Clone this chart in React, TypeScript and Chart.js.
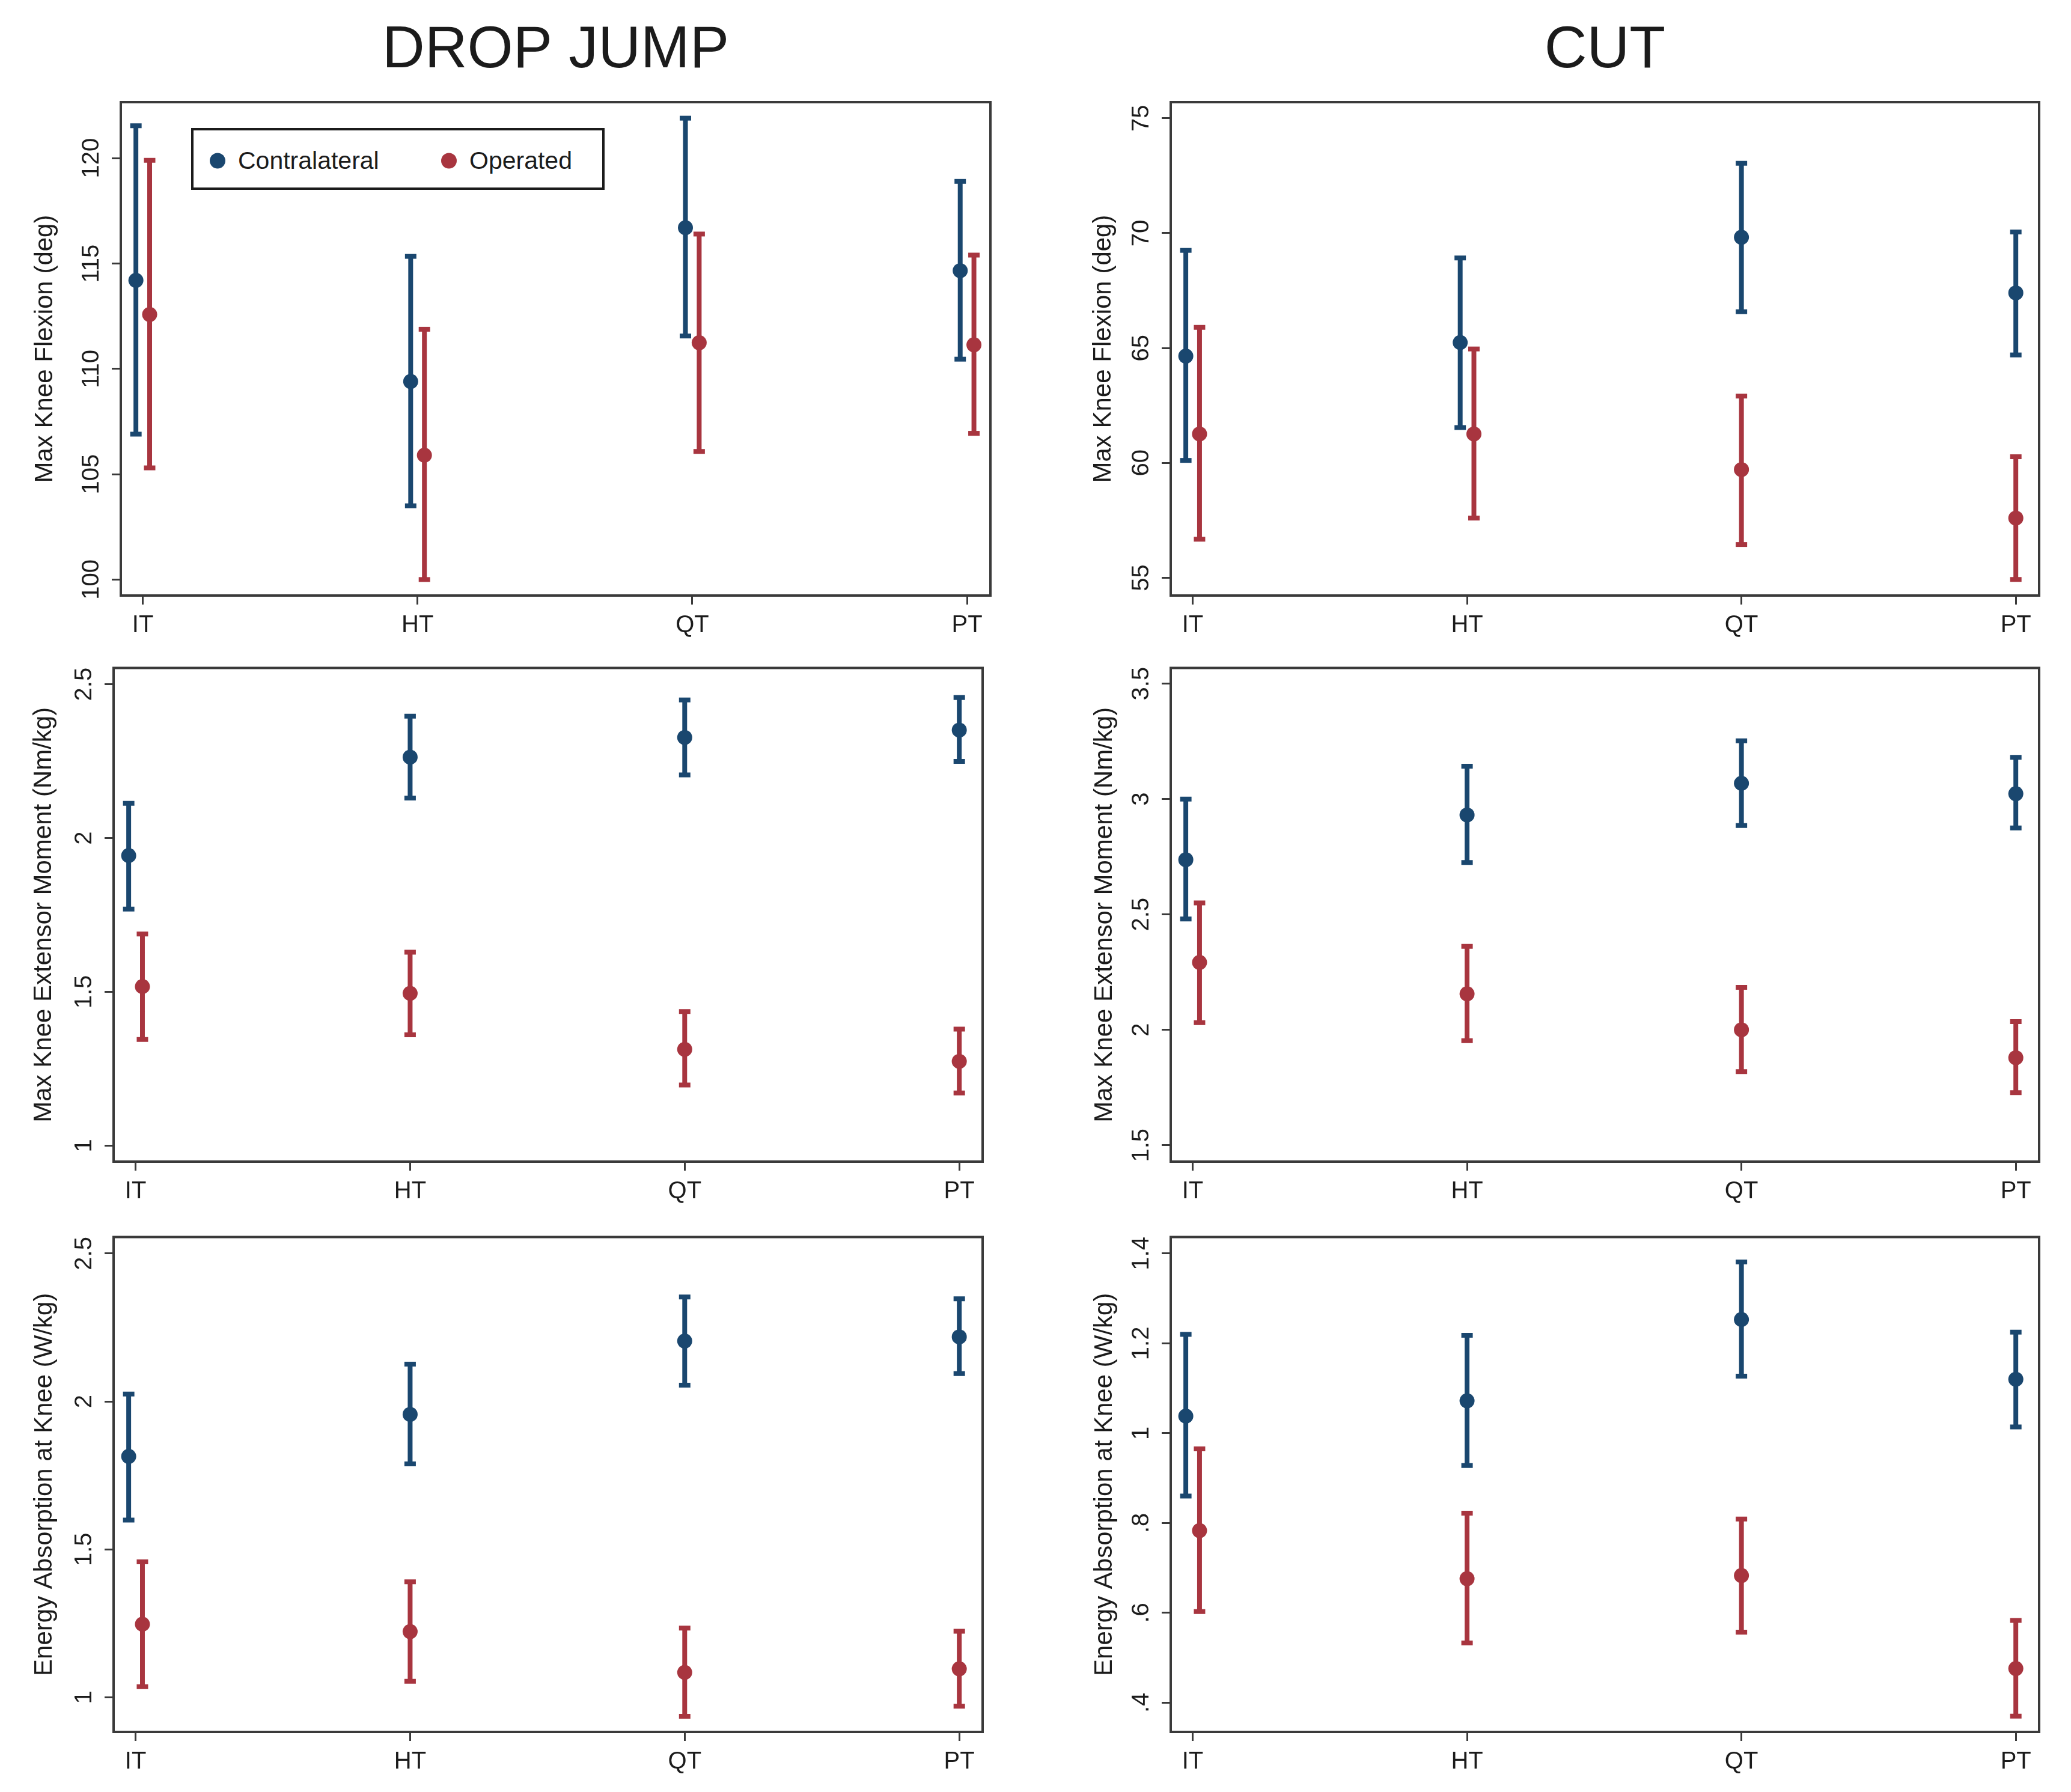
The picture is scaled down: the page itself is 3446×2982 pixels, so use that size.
import React, { useEffect, useRef } from "react";
import { Chart, registerables, ChartConfiguration } from "chart.js";

Chart.register(...registerables);

// ---- data ----------------------------------------------------------------
const categories = ["IT", "HT", "QT", "PT"];
const seriesNames = ["Contralateral", "Operated"];
const columnTitles = ["DROP JUMP", "CUT"];
const rowTitles = [
  "Max Knee Flexion (deg)",
  "Max Knee Extensor Moment (Nm/kg)",
  "Energy Absorption at Knee (W/kg)",
];

// drop jump, max knee flexion
const djFlexContraMean = [114.2, 109.4, 116.7, 114.66];
const djFlexContraLo = [106.9, 103.5, 111.56, 110.46];
const djFlexContraHi = [121.54, 115.34, 121.9, 118.9];
const djFlexOpMean = [112.58, 105.9, 111.24, 111.14];
const djFlexOpLo = [105.3, 100.0, 106.08, 106.94];
const djFlexOpHi = [119.9, 111.88, 116.4, 115.4];
const djFlexDodge = [1, 1, 1, 1];
const djFlexTicks = [100, 105, 110, 115, 120];

// cut, max knee flexion
const cutFlexContraMean = [64.65, 65.24, 69.82, 67.4];
const cutFlexContraLo = [60.11, 61.54, 66.58, 64.7];
const cutFlexContraHi = [69.25, 68.92, 73.04, 70.05];
const cutFlexOpMean = [61.26, 61.26, 59.71, 57.6];
const cutFlexOpLo = [56.68, 57.6, 56.45, 54.93];
const cutFlexOpHi = [65.9, 64.96, 62.91, 60.27];
const cutFlexDodge = [1, 1, 0, 0];
const cutFlexTicks = [55, 60, 65, 70, 75];

// drop jump, max knee extensor moment
const djMomContraMean = [1.943, 2.263, 2.327, 2.351];
const djMomContraLo = [1.769, 2.13, 2.205, 2.249];
const djMomContraHi = [2.113, 2.396, 2.449, 2.457];
const djMomOpMean = [1.517, 1.495, 1.313, 1.274];
const djMomOpLo = [1.345, 1.36, 1.197, 1.171];
const djMomOpHi = [1.688, 1.629, 1.436, 1.379];
const djMomDodge = [1, 0, 0, 0];
const djMomTicks = [1, 1.5, 2, 2.5];

// cut, max knee extensor moment
const cutMomContraMean = [2.737, 2.931, 3.068, 3.023];
const cutMomContraLo = [2.48, 2.725, 2.885, 2.875];
const cutMomContraHi = [3.0, 3.142, 3.252, 3.181];
const cutMomOpMean = [2.292, 2.156, 2.0, 1.879];
const cutMomOpLo = [2.031, 1.953, 1.819, 1.728];
const cutMomOpHi = [2.55, 2.362, 2.184, 2.036];
const cutMomDodge = [1, 0, 0, 0];
const cutMomTicks = [1.5, 2, 2.5, 3, 3.5];

// drop jump, energy absorption
const djEnContraMean = [1.814, 1.956, 2.204, 2.218];
const djEnContraLo = [1.599, 1.789, 2.055, 2.094];
const djEnContraHi = [2.025, 2.126, 2.353, 2.347];
const djEnOpMean = [1.247, 1.222, 1.084, 1.096];
const djEnOpLo = [1.036, 1.054, 0.936, 0.97];
const djEnOpHi = [1.458, 1.39, 1.234, 1.223];
const djEnDodge = [1, 0, 0, 0];
const djEnTicks = [1, 1.5, 2, 2.5];

// cut, energy absorption
const cutEnContraMean = [1.038, 1.072, 1.253, 1.12];
const cutEnContraLo = [0.86, 0.928, 1.127, 1.014];
const cutEnContraHi = [1.22, 1.218, 1.381, 1.225];
const cutEnOpMean = [0.783, 0.676, 0.683, 0.476];
const cutEnOpLo = [0.603, 0.533, 0.557, 0.37];
const cutEnOpHi = [0.965, 0.822, 0.809, 0.583];
const cutEnDodge = [1, 0, 0, 0];
const cutEnTicks = [0.4, 0.6, 0.8, 1, 1.2, 1.4];

// ---- look ----------------------------------------------------------------
const FONT = '"Liberation Sans", Arial, Helvetica, sans-serif';
const INK = "#1b1b1b";
const FRAME = "#3a3a3a";
const BLUE = "#1a476f";
const RED = "#a8353f";
const seriesColors = [BLUE, RED];
const DODGE = 0.025;
const TICK_LEN = 15;
const TICK_FONT = 40;
const LABEL_CENTER = 48; // box edge -> centre of rotated y tick label
const X_AXIS_H = 90;

interface Series {
  mean: number[];
  lo: number[];
  hi: number[];
}

interface PanelSpec {
  key: string;
  title?: string;
  yTitle: string;
  contra: Series;
  operated: Series;
  dodge: number[];
  yTicks: number[];
  yMin: number;
  yMax: number;
  left: number;
  top: number;
  width: number;
  height: number;
  axisW: number;
  padTop: number;
  padRight: number;
  yTitlePad: number;
}

const panels: PanelSpec[] = [
  {
    key: "djFlex", title: columnTitles[0], yTitle: rowTitles[0],
    contra: { mean: djFlexContraMean, lo: djFlexContraLo, hi: djFlexContraHi },
    operated: { mean: djFlexOpMean, lo: djFlexOpLo, hi: djFlexOpHi },
    dodge: djFlexDodge, yTicks: djFlexTicks, yMin: 99.24, yMax: 122.66,
    left: 0, top: 0, width: 1723, height: 1081, axisW: 201, padTop: 0, padRight: 75, yTitlePad: 50,
  },
  {
    key: "cutFlex", title: columnTitles[1], yTitle: rowTitles[0],
    contra: { mean: cutFlexContraMean, lo: cutFlexContraLo, hi: cutFlexContraHi },
    operated: { mean: cutFlexOpMean, lo: cutFlexOpLo, hi: cutFlexOpHi },
    dodge: cutFlexDodge, yTicks: cutFlexTicks, yMin: 54.23, yMax: 75.7,
    left: 1723, top: 0, width: 1723, height: 1081, axisW: 225, padTop: 0, padRight: 53, yTitlePad: 88,
  },
  {
    key: "djMom", yTitle: rowTitles[1],
    contra: { mean: djMomContraMean, lo: djMomContraLo, hi: djMomContraHi },
    operated: { mean: djMomOpMean, lo: djMomOpLo, hi: djMomOpHi },
    dodge: djMomDodge, yTicks: djMomTicks, yMin: 0.948, yMax: 2.553,
    left: 0, top: 1051, width: 1723, height: 972, axisW: 189, padTop: 60.5, padRight: 88, yTitlePad: 48,
  },
  {
    key: "cutMom", yTitle: rowTitles[1],
    contra: { mean: cutMomContraMean, lo: cutMomContraLo, hi: cutMomContraHi },
    operated: { mean: cutMomOpMean, lo: cutMomOpLo, hi: cutMomOpHi },
    dodge: cutMomDodge, yTicks: cutMomTicks, yMin: 1.429, yMax: 3.568,
    left: 1723, top: 1051, width: 1723, height: 972, axisW: 225, padTop: 60.5, padRight: 53, yTitlePad: 90,
  },
  {
    key: "djEn", yTitle: rowTitles[2],
    contra: { mean: djEnContraMean, lo: djEnContraLo, hi: djEnContraHi },
    operated: { mean: djEnOpMean, lo: djEnOpLo, hi: djEnOpHi },
    dodge: djEnDodge, yTicks: djEnTicks, yMin: 0.883, yMax: 2.5555,
    left: 0, top: 1998, width: 1723, height: 974, axisW: 189, padTop: 60.5, padRight: 88, yTitlePad: 49,
  },
  {
    key: "cutEn", yTitle: rowTitles[2],
    contra: { mean: cutEnContraMean, lo: cutEnContraLo, hi: cutEnContraHi },
    operated: { mean: cutEnOpMean, lo: cutEnOpLo, hi: cutEnOpHi },
    dodge: cutEnDodge, yTicks: cutEnTicks, yMin: 0.335, yMax: 1.4366,
    left: 1723, top: 1998, width: 1723, height: 974, axisW: 225, padTop: 60.5, padRight: 53, yTitlePad: 90,
  },
];

// stata style: drop the leading zero
function fmtTick(v: number): string {
  const s = String(Math.round(v * 100) / 100);
  return s.startsWith("0.") ? s.slice(1) : s;
}

function measureWidest(labels: string[], size: number): number {
  const ctx = document.createElement("canvas").getContext("2d");
  if (!ctx) return 0;
  ctx.font = `normal ${size}px ${FONT}`;
  return Math.max(...labels.map((l) => ctx.measureText(l).width));
}

function xOf(i: number, dodge: number[], side: number) {
  return i + 1 + dodge[i] * side * DODGE;
}

// vertical whiskers, broken by null points, caps drawn as line points
function whiskerSet(s: Series, dodge: number[], side: number, color: string) {
  const pts: { x: number; y: number | null }[] = [];
  s.lo.forEach((lo, i) => {
    const x = xOf(i, dodge, side);
    pts.push({ x, y: lo }, { x, y: s.hi[i] }, { x, y: null });
  });
  return {
    type: "line" as const,
    data: pts,
    borderColor: color,
    borderWidth: 8,
    pointStyle: "line" as const,
    pointRadius: 9.5,
    pointBorderWidth: 8,
    pointBorderColor: color,
    pointBackgroundColor: color,
    spanGaps: false,
    tension: 0,
    fill: false,
    order: 2,
  };
}

function meanSet(s: Series, dodge: number[], side: number, color: string) {
  return {
    type: "scatter" as const,
    data: s.mean.map((m, i) => ({ x: xOf(i, dodge, side), y: m })),
    pointStyle: "circle" as const,
    pointRadius: 12.5,
    pointBackgroundColor: color,
    pointBorderColor: color,
    pointBorderWidth: 0,
    showLine: false,
    order: 1,
  };
}

const framePlugin = {
  id: "frame",
  afterDatasetsDraw(chart: Chart) {
    const { ctx, chartArea: a } = chart;
    ctx.save();
    ctx.strokeStyle = FRAME;
    ctx.lineWidth = 4;
    ctx.strokeRect(a.left, a.top, a.right - a.left, a.bottom - a.top);
    ctx.restore();
  },
};

function buildConfig(spec: PanelSpec): ChartConfiguration {
  const widest = measureWidest(spec.yTicks.map(fmtTick), TICK_FONT);
  const yTickPad = LABEL_CENTER - TICK_LEN - widest / 2;
  const tickGrid = {
    display: true,
    drawOnChartArea: false,
    drawTicks: true,
    tickLength: TICK_LEN,
    tickWidth: 3,
    tickColor: FRAME,
  };

  return {
    type: "scatter",
    data: {
      datasets: [
        whiskerSet(spec.contra, spec.dodge, -1, BLUE),
        whiskerSet(spec.operated, spec.dodge, 1, RED),
        meanSet(spec.contra, spec.dodge, -1, BLUE),
        meanSet(spec.operated, spec.dodge, 1, RED),
      ] as any,
    },
    options: {
      animation: false,
      responsive: true,
      maintainAspectRatio: false,
      events: [],
      layout: {
        padding: { left: 0, top: spec.padTop, right: spec.padRight, bottom: 0 },
      },
      plugins: {
        legend: { display: false },
        tooltip: { enabled: false },
        title: {
          display: !!spec.title,
          text: spec.title || "",
          fullSize: false,
          color: INK,
          font: { family: FONT, size: 98, weight: "normal", lineHeight: 1 },
          padding: { top: 36, bottom: 36 },
        },
      },
      scales: {
        x: {
          type: "linear",
          min: 0.92,
          max: 4.085,
          afterBuildTicks: (s: any) => {
            s.ticks = categories.map((_, i) => ({ value: i + 1 }));
          },
          afterFit: (s: any) => {
            s.height = X_AXIS_H;
          },
          ticks: {
            autoSkip: false,
            minRotation: 0,
            maxRotation: 0,
            padding: 11,
            color: INK,
            font: { family: FONT, size: TICK_FONT, lineHeight: 1.2 },
            callback: (v: any) => categories[Number(v) - 1] ?? "",
          },
          grid: tickGrid,
          border: { display: false },
        },
        y: {
          type: "linear",
          min: spec.yMin,
          max: spec.yMax,
          afterBuildTicks: (s: any) => {
            s.ticks = spec.yTicks.map((v) => ({ value: v }));
          },
          afterFit: (s: any) => {
            s.width = spec.axisW;
          },
          ticks: {
            autoSkip: false,
            minRotation: 90,
            maxRotation: 90,
            crossAlign: "center",
            padding: yTickPad,
            color: INK,
            font: { family: FONT, size: TICK_FONT, lineHeight: 1.2 },
            callback: (v: any) => fmtTick(Number(v)),
          },
          grid: tickGrid,
          border: { display: false },
          title: {
            display: true,
            text: spec.yTitle,
            color: INK,
            font: { family: FONT, size: 42, lineHeight: 1.2 },
            padding: { top: spec.yTitlePad, bottom: 0 },
          },
        },
      },
    },
    plugins: [framePlugin],
  } as ChartConfiguration;
}

function Panel({ spec }: { spec: PanelSpec }) {
  const canvasRef = useRef<HTMLCanvasElement | null>(null);

  useEffect(() => {
    if (!canvasRef.current) return;
    const chart = new Chart(canvasRef.current, buildConfig(spec));
    return () => {
      chart.destroy();
    };
  }, [spec]);

  return (
    <div
      style={{
        position: "absolute",
        left: spec.left,
        top: spec.top,
        width: spec.width,
        height: spec.height,
      }}
    >
      <canvas ref={canvasRef} />
    </div>
  );
}

function Legend() {
  const itemLefts = [27, 412];
  return (
    <div
      style={{
        position: "absolute",
        left: 318,
        top: 213,
        width: 680,
        height: 95,
        border: `4px solid ${INK}`,
        background: "#fff",
      }}
    >
      {seriesNames.map((name, i) => (
        <div
          key={name}
          style={{
            position: "absolute",
            left: itemLefts[i],
            top: 50,
            transform: "translateY(-50%)",
            display: "flex",
            alignItems: "center",
            gap: 21,
            whiteSpace: "nowrap",
          }}
        >
          <span
            style={{
              width: 26,
              height: 26,
              flexShrink: 0,
              borderRadius: "50%",
              background: seriesColors[i],
            }}
          />
          <span style={{ fontSize: 41, lineHeight: 1, color: INK }}>{name}</span>
        </div>
      ))}
    </div>
  );
}

export default function App() {
  useEffect(() => {
    document.body.style.margin = "0";
  }, []);

  return (
    <div
      style={{
        position: "relative",
        width: 3446,
        height: 2982,
        overflow: "hidden",
        background: "#fff",
        fontFamily: FONT,
      }}
    >
      {panels.map((p) => (
        <Panel key={p.key} spec={p} />
      ))}
      <Legend />
    </div>
  );
}
